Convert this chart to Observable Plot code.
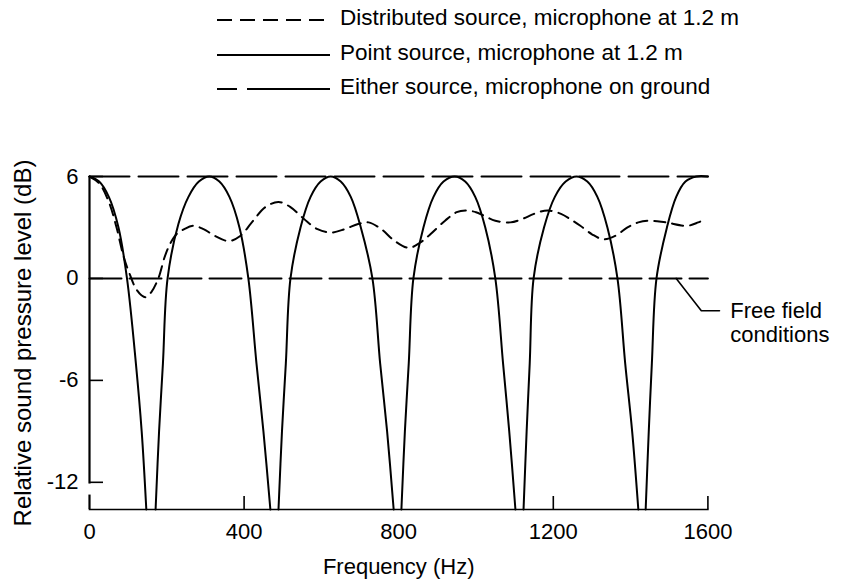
<!DOCTYPE html>
<html>
<head>
<meta charset="utf-8">
<script src="https://cdn.jsdelivr.net/npm/d3@7"></script>
<script src="https://cdn.jsdelivr.net/npm/@observablehq/plot@0.6"></script>
<style>
  html, body { margin: 0; padding: 0; background: #fff; }
  body { width: 841px; height: 584px; overflow: hidden; font-family: "Liberation Sans", Arial, sans-serif; }
  #legend { position: relative; width: 841px; height: 130px; }
  .row { position: absolute; left: 0; width: 841px; height: 32px; }
  .row svg { position: absolute; left: 214px; top: 0; }
  .row span { position: absolute; left: 340px; top: 3px; font-size: 22.5px; line-height: 26px; color: #000; white-space: nowrap; }
</style>
</head>
<body>
<div id="legend"></div>
<div id="chart"></div>
<script>
// ---------- data ----------
const legendLabels = [
  "Distributed source, microphone at 1.2 m",
  "Point source, microphone at 1.2 m",
  "Either source, microphone on ground"
];
const xTicks = [0, 400, 800, 1200, 1600];
const xTickLabels = ["0", "400", "800", "1200", "1600"];
const xTickMarks = [400, 1200, 1600];
const yTicks = [6, 0, -6, -12];
const yTickLabels = ["6", "0", "-6", "-12"];
const yBottom = -13.6;

// point source, microphone at 1.2 m : [frequency Hz, dB, lobe]
const pointSource = [
  [0,6.0,0],[25,5.7,0],[50,4.8,0],[75,3.0,0],[97,0,0],[120,-5,0],[135,-9,0],[147,-13.6,0],
  [171,-13.6,1],[180,-9,1],[190,-5,1],[202,0,1],[230,3.2,1],[256,4.8,1],[283,5.7,1],[310,6.0,1],[336,5.7,1],[362,4.8,1],[388,3.0,1],[411,0,1],[432,-5,1],[450,-9,1],[468,-13.6,1],
  [489,-13.6,2],[498,-9,2],[508,-5,2],[520,0,2],[546,3.0,2],[572,4.8,2],[598,5.7,2],[624,6.0,2],[650,5.7,2],[676,4.8,2],[702,3.0,2],[732,0,2],[752,-5,2],[770,-9,2],[787,-13.6,2],
  [807,-13.6,3],[816,-9,3],[826,-5,3],[838,0,3],[864,3.0,3],[890,4.8,3],[916,5.7,3],[945,6.0,3],[972,5.7,3],[998,4.8,3],[1024,3.0,3],[1050,0,3],[1070,-5,3],[1086,-9,3],[1102,-13.6,3],
  [1123,-13.6,4],[1131,-9,4],[1139,-5,4],[1149,0,4],[1176,3.0,4],[1204,4.8,4],[1232,5.7,4],[1260,6.0,4],[1288,5.7,4],[1314,4.8,4],[1340,3.0,4],[1366,0,4],[1386,-5,4],[1404,-9,4],[1420,-13.6,4],
  [1439,-13.6,5],[1447,-9,5],[1455,-5,5],[1467,0,5],[1494,3.0,5],[1518,4.8,5],[1542,5.7,5],[1570,6.0,5],[1600,6.0,5]
];

// distributed source, microphone at 1.2 m : [frequency Hz, dB]
const distributedSource = [
  [0,6.0],[25,5.6],[50,4.5],[70,3.0],[88,1.3],[105,0.2],[120,-0.6],[135,-1.0],[145,-1.1],[160,-0.8],
  [178,0.0],[195,1.3],[210,2.1],[225,2.6],[245,2.9],[269,3.1],[295,2.9],[325,2.5],[360,2.2],[390,2.5],
  [420,3.3],[455,4.2],[489,4.5],[520,4.2],[555,3.5],[590,2.9],[624,2.7],[660,2.9],[695,3.2],[722,3.3],
  [755,2.9],[790,2.2],[826,1.8],[855,2.1],[882,2.6],[920,3.4],[950,3.9],[973,4.0],[1000,3.9],[1020,3.7],
  [1050,3.4],[1089,3.3],[1120,3.5],[1150,3.8],[1185,4.0],[1220,3.8],[1250,3.4],[1270,3.1],[1300,2.6],[1330,2.3],
  [1360,2.5],[1392,3.0],[1420,3.3],[1446,3.4],[1490,3.3],[1547,3.1],[1575,3.3],[1594,3.5]
];

// either source, microphone on ground (pressure doubling) and free field reference
const groundLevel = [[0,6],[1600,6]];
const freeField = [[0,0],[1600,0]];
const freeFieldLabel = "Free field\nconditions";
const freeFieldLeader = [[1518,0],[1583,-1.9],[1630,-1.9]];
// hand-drawn y axis, with a small break above the bottom
const yAxisSegments = [[6, -12.1], [-12.75, yBottom]];

// ---------- legend ----------
const legend = document.getElementById("legend");
const legendStyles = [
  {dash: "15,8", top: 2},
  {dash: null, top: 37},
  {dash: "20,10,83,0", top: 71}
];
legendLabels.forEach((lab, i) => {
  const row = document.createElement("div");
  row.className = "row";
  row.style.top = legendStyles[i].top + "px";
  const svg = d3.create("svg").attr("width", 120).attr("height", 32);
  svg.append("line").attr("x1", 3).attr("x2", 116).attr("y1", 18).attr("y2", 18)
    .attr("stroke", "#000").attr("stroke-width", 2)
    .attr("stroke-dasharray", legendStyles[i].dash);
  row.appendChild(svg.node());
  const span = document.createElement("span");
  span.textContent = lab;
  row.appendChild(span);
  legend.appendChild(row);
});

// ---------- chart ----------
const chart = Plot.plot({
  width: 841,
  height: 454,
  marginTop: 46,
  marginBottom: 75,
  marginLeft: 89,
  marginRight: 133.6,
  style: {fontFamily: "Liberation Sans, Arial, sans-serif", fontSize: "21px", color: "#000", background: "#fff", overflow: "visible"},
  x: {domain: [0, 1600]},
  y: {domain: [yBottom, 6]},
  marks: [
    // axis lines
    Plot.ruleX(yAxisSegments, {x: 0, y1: d => d[0], y2: d => d[1], strokeWidth: 2.2}),
    Plot.frame({anchor: "bottom", strokeWidth: 1.6}),
    // inward tick marks
    Plot.axisY({ticks: yTicks, tickSize: 14, dx: 14, text: null, label: null, strokeWidth: 1.6}),
    Plot.axisX({ticks: xTickMarks, tickSize: 13, dy: -13, text: null, label: null, strokeWidth: 1.6}),
    // tick labels and titles
    Plot.axisY({ticks: yTicks, tickSize: 0, tickPadding: 11, fontSize: 22,
      tickFormat: (d) => yTickLabels[yTicks.indexOf(d)],
      label: null}),
    Plot.axisY({ticks: [], tickSize: 0, fontSize: 24,
      label: "Relative sound pressure level (dB)", labelAnchor: "center", labelArrow: "none", labelOffset: 76}),
    Plot.axisX({ticks: xTicks, tickSize: 0, tickPadding: 14, fontSize: 22,
      tickFormat: (d) => xTickLabels[xTicks.indexOf(d)],
      label: "Frequency (Hz)", labelAnchor: "center", labelArrow: "none", labelOffset: 64}),
    // reference lines
    Plot.line(groundLevel, {x: d => d[0], y: d => d[1], stroke: "#000", strokeWidth: 2, strokeDasharray: "40,9"}),
    Plot.line(freeField, {x: d => d[0], y: d => d[1], stroke: "#000", strokeWidth: 2, strokeDasharray: "32,8"}),
    // curves
    Plot.line(pointSource, {x: d => d[0], y: d => d[1], z: d => d[2], stroke: "#000", strokeWidth: 2, curve: "catmull-rom"}),
    Plot.line(distributedSource, {x: d => d[0], y: d => d[1], stroke: "#000", strokeWidth: 2, strokeDasharray: "11,7", curve: "catmull-rom"}),
    // annotation
    Plot.line(freeFieldLeader, {x: d => d[0], y: d => d[1], stroke: "#000", strokeWidth: 1.6}),
    Plot.text([freeFieldLabel], {x: 1658, y: -2.6, text: d => d, textAnchor: "start", lineAnchor: "middle", fontSize: 22, lineHeight: 1.1})
  ]
});
document.getElementById("chart").appendChild(chart);
</script>
</body>
</html>
